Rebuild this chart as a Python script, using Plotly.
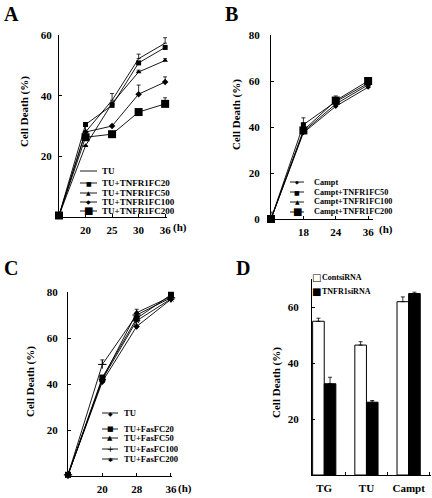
import plotly.graph_objects as go

# ---------------- data ----------------
# Panel A
a_times = ["0", "20", "25", "30", "36"]
a_tick = ["20", "25", "30", "36"]
a_names = ["TU", "TU+TNFR1FC20", "TU+TNFR1FC50", "TU+TNFR1FC100", "TU+TNFR1FC200"]
a_tu = [0.5, 28.0, 38.5, 52.2, 57.3]
a_fc20 = [0.5, 30.5, 36.8, 50.8, 55.9]
a_fc50 = [0.5, 23.5, 37.5, 47.8, 51.6]
a_fc100 = [0.5, 28.0, 30.0, 40.5, 44.5]
a_fc200 = [0.5, 26.3, 27.3, 34.6, 37.3]
a_tu_err = [0, 3.0, 2.2, 1.5, 1.8]
a_fc20_err = [0, 0, 1.0, 0, 0]
a_fc50_err = [0, 0, 0, 0.6, 0.6]
a_fc100_err = [0, 0, 0, 3.0, 1.7]
a_fc200_err = [0, 0, 0, 0, 2.0]

# Panel B
b_times = ["0", "18", "24", "36"]
b_tick = ["18", "24", "36"]
b_names = ["Campt", "Campt+TNFR1FC50", "Campt+TNFR1FC100", "Campt+TNFR1FC200"]
b_campt = [0.0, 37.5, 49.0, 57.3]
b_fc50 = [0.0, 41.0, 51.0, 59.0]
b_fc100 = [0.0, 38.0, 50.0, 58.3]
b_fc200 = [0.0, 38.5, 51.5, 60.0]
b_campt_err = [3.0, 0, 0, 0]
b_fc50_err = [0, 3.0, 2.5, 0]
b_fc100_err = [0, 0, 0, 0]
b_fc200_err = [0, 0, 0, 0.8]

# Panel C
c_times = ["0", "20", "28", "36"]
c_tick = ["20", "28", "36"]
c_names = ["TU", "TU+FasFC20", "TU+FasFC50", "TU+FasFC100", "TU+FasFC200"]
c_tu = [0.5, 41.0, 65.0, 76.8]
c_fas20 = [0.5, 42.8, 68.5, 78.8]
c_fas50 = [0.5, 42.0, 71.0, 78.0]
c_fas100 = [0.5, 48.5, 70.0, 77.5]
c_fas200 = [0.5, 42.0, 67.5, 77.0]
c_tu_err = [0, 0, 0, 0]
c_fas20_err = [0, 0, 0, 0.6]
c_fas50_err = [0, 0, 1.5, 0]
c_fas100_err = [0, 2.0, 0, 0]
c_fas200_err = [0, 0, 0, 0]

# Panel D
d_groups = ["TG", "TU", "Campt"]
d_names = ["ContsiRNA", "TNFR1siRNA"]
d_cont = [54.9, 46.4, 61.9]
d_cont_err = [1.1, 1.2, 1.7]
d_tnfr = [32.6, 26.0, 64.8]
d_tnfr_err = [2.3, 0.6, 0.5]

# ---------------- helpers ----------------
W, H = 432, 498
BLACK = "black"
SERIF = "Liberation Serif"


def px(x):
    return x / W


def py(y):
    return 1 - y / H


def err(arr):
    return dict(type="data", array=arr, arrayminus=[0] * len(arr), symmetric=False,
                color=BLACK, thickness=0.8, width=2)


fig = go.Figure()


def line_trace(x, y, e, name, symbol, size, xa, ya, mline=0):
    fig.add_trace(go.Scatter(
        x=x, y=y, name=name, mode="lines+markers" if symbol else "lines",
        line=dict(color=BLACK, width=0.9),
        marker=dict(symbol=symbol or "circle", size=size, color=BLACK,
                    line=dict(color=BLACK, width=mline)),
        error_y=err(e), xaxis=xa, yaxis=ya, showlegend=False, cliponaxis=False))


# A
line_trace(a_times, a_tu, a_tu_err, a_names[0], None, 0, "x", "y")
line_trace(a_times, a_fc20, a_fc20_err, a_names[1], "square", 5, "x", "y")
line_trace(a_times, a_fc50, a_fc50_err, a_names[2], "triangle-up", 5, "x", "y")
line_trace(a_times, a_fc100, a_fc100_err, a_names[3], "diamond", 5, "x", "y")
line_trace(a_times, a_fc200, a_fc200_err, a_names[4], "square", 8, "x", "y")
# B
line_trace(b_times, b_campt, b_campt_err, b_names[0], "diamond", 4, "x2", "y2")
line_trace(b_times, b_fc50, b_fc50_err, b_names[1], "square", 5, "x2", "y2")
line_trace(b_times, b_fc100, b_fc100_err, b_names[2], "triangle-up", 5, "x2", "y2")
line_trace(b_times, b_fc200, b_fc200_err, b_names[3], "square", 8, "x2", "y2")
# C
line_trace(c_times, c_tu, c_tu_err, c_names[0], "diamond", 5, "x3", "y3")
line_trace(c_times, c_fas20, c_fas20_err, c_names[1], "square", 6, "x3", "y3")
line_trace(c_times, c_fas50, c_fas50_err, c_names[2], "triangle-up", 6, "x3", "y3")
line_trace(c_times, c_fas100, c_fas100_err, c_names[3], "cross-thin-open", 6, "x3", "y3", 1)
line_trace(c_times, c_fas200, c_fas200_err, c_names[4], "asterisk-open", 6, "x3", "y3", 1)
# D
fig.add_trace(go.Bar(x=d_groups, y=d_cont, name=d_names[0], xaxis="x4", yaxis="y4",
                     marker=dict(color="white", line=dict(color=BLACK, width=1)),
                     error_y=err(d_cont_err), showlegend=False))
fig.add_trace(go.Bar(x=d_groups, y=d_tnfr, name=d_names[1], xaxis="x4", yaxis="y4",
                     marker=dict(color=BLACK, line=dict(color=BLACK, width=1)),
                     error_y=err(d_tnfr_err), showlegend=False))

tickfont = dict(family=SERIF, size=11, color=BLACK, weight="bold")


def xax(domain, anchor, rng, tickvals, standoff=3):
    return dict(domain=domain, anchor=anchor, type="category", range=rng,
                showline=True, linecolor=BLACK, linewidth=1, ticks="inside", ticklen=3,
                tickcolor=BLACK, tickvals=tickvals, ticktext=tickvals, showgrid=False,
                zeroline=False, tickfont=tickfont, ticklabelstandoff=standoff,
                tickangle=0, automargin=False, fixedrange=True)


def yax(domain, anchor, rng, tickvals, standoff=4):
    return dict(domain=domain, anchor=anchor, range=rng, showline=True, linecolor=BLACK,
                linewidth=1, ticks="inside", ticklen=3, tickcolor=BLACK, tickvals=tickvals,
                showgrid=False, zeroline=False, tickfont=tickfont, automargin=False,
                ticklabelstandoff=standoff, fixedrange=True)


fig.update_layout(
    width=W, height=H, margin=dict(l=0, r=0, t=0, b=0, pad=0, autoexpand=False),
    paper_bgcolor="white", plot_bgcolor="white", showlegend=False,
    barmode="group", bargap=0.45, bargroupgap=0,
    xaxis=xax([px(59), px(167)], "y", [0, 4.07], a_tick),
    yaxis=yax([py(217), py(35)], "x", [0, 60], [20, 40, 60], 4),
    xaxis2=xax([px(271), px(373)], "y2", [0, 3.15], b_tick),
    yaxis2=yax([py(219), py(35)], "x2", [0, 80], [0, 20, 40, 60, 80], 8),
    xaxis3=xax([px(68), px(172)], "y3", [0, 3.03], c_tick),
    yaxis3=yax([py(476), py(292)], "x3", [0, 80], [20, 40, 60, 80], 7),
    xaxis4=dict(domain=[px(312), px(431)], anchor="y4", type="category", range=[-0.29, 2.53],
                showline=True, linecolor=BLACK, linewidth=1, ticks="inside", ticklen=3,
                tickcolor=BLACK, tickson="boundaries", showgrid=False, zeroline=False,
                tickfont=tickfont, ticklabelstandoff=3, tickangle=0, automargin=False,
                fixedrange=True),
    yaxis4=yax([py(475), py(279)], "x4", [0, 70], [20, 40, 60], 10),
)

annotations = []
shapes = []

# panel letters
for letter, x, y in [("A", 2, 14), ("B", 223, 14), ("C", 2, 268), ("D", 234, 268)]:
    annotations.append(dict(text=letter, x=px(x), y=py(y), xref="paper", yref="paper",
                            xanchor="left", yanchor="middle", showarrow=False,
                            font=dict(family=SERIF, size=20, color=BLACK, weight="bold")))

# y-axis titles
for x, y in [(24, 112), (237, 115), (30, 382), (276, 383)]:
    annotations.append(dict(text="Cell Death (%)", x=px(x), y=py(y), xref="paper", yref="paper",
                            textangle=-90, showarrow=False, xanchor="center", yanchor="middle",
                            font=dict(family=SERIF, size=11, color=BLACK, weight="bold")))

# "(h)" unit labels
for x, y in [(180, 228), (386, 230), (185, 488)]:
    annotations.append(dict(text="(h)", x=px(x), y=py(y), xref="paper", yref="paper",
                            showarrow=False, xanchor="center", yanchor="middle",
                            font=dict(family=SERIF, size=11, color=BLACK, weight="bold")))


def legend_item(name, glyph, gsize, lx0, lx1, ty, tx, fsize):
    cx = (lx0 + lx1) / 2
    shapes.append(dict(type="line", xref="paper", yref="paper", x0=px(lx0), x1=px(lx1),
                       y0=py(ty), y1=py(ty), line=dict(color=BLACK, width=0.9)))
    if glyph:
        annotations.append(dict(text=glyph, x=px(cx), y=py(ty), xref="paper", yref="paper",
                                showarrow=False, xanchor="center", yanchor="middle",
                                font=dict(family="DejaVu Sans", size=gsize, color=BLACK)))
    annotations.append(dict(text=name, x=px(tx), y=py(ty), xref="paper", yref="paper",
                            showarrow=False, xanchor="left", yanchor="middle",
                            font=dict(family=SERIF, size=fsize, color=BLACK, weight="bold")))


# legend A
a_glyphs = [(None, 0), ("■", 6), ("▲", 6), ("◆", 6), ("■", 10)]
for name, (g, s), ty in zip(a_names, a_glyphs, [171, 183, 193, 202, 211]):
    legend_item(name, g, s, 80, 97, ty, 100, 9)

# legend B
b_glyphs = [("◆", 5), ("■", 6), ("▲", 6), ("■", 10)]
for name, (g, s), ty in zip(b_names, b_glyphs, [182, 192, 202, 212]):
    legend_item(name, g, s, 290, 304, ty, 312, 8.2)

# legend C
c_glyphs = [("◆", 6), ("■", 7), ("▲", 7), ("+", 8), ("✱", 6)]
for name, (g, s), ty in zip(c_names, c_glyphs, [413, 429, 438, 449, 459]):
    legend_item(name, g, s, 102, 118, ty, 122, 8.6)

# legend D
for name, g, ty in zip(d_names, ["□", "■"], [277, 291]):
    annotations.append(dict(text=g, x=px(316), y=py(ty), xref="paper", yref="paper",
                            showarrow=False, xanchor="center", yanchor="middle",
                            font=dict(family="DejaVu Sans", size=10, color=BLACK)))
    annotations.append(dict(text=name, x=px(320), y=py(ty), xref="paper", yref="paper",
                            showarrow=False, xanchor="left", yanchor="middle",
                            font=dict(family=SERIF, size=8, color=BLACK, weight="bold")))

fig.update_layout(annotations=annotations, shapes=shapes)
fig.write_html("out.html", config={"displayModeBar": False, "staticPlot": True},
               post_script="document.body.style.margin='0';document.body.style.overflow='hidden';")
